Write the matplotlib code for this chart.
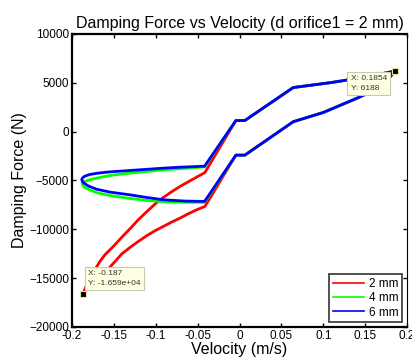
import matplotlib
matplotlib.use("Agg")
import matplotlib.pyplot as plt
import numpy as np

plt.rcParams['font.family'] = ['Liberation Sans', 'DejaVu Sans']

# shared right-hand part of the loop (upper branch, right to left)
right_upper_v = [0.1854, 0.150, 0.110, 0.064, 0.0063, -0.0044]
right_upper_f = [6188, 5570, 5020, 4500, 1126, 1126]
# shared right-hand part of the loop (lower branch, left to right)
right_lower_v = [-0.0044, 0.0063, 0.064, 0.100, 0.140, 0.170, 0.1854]
right_lower_f = [-2420, -2420, 1000, 1950, 3400, 4600, 6188]

# 2 mm
red_left_v = [-0.0414, -0.0513, -0.0613, -0.0712, -0.0812, -0.0911, -0.1011, -0.1110,
              -0.1210, -0.1309, -0.1409, -0.1508, -0.1608, -0.1668, -0.1728, -0.1787, -0.187,
              -0.1827, -0.175, -0.165, -0.155, -0.1469, -0.1409, -0.1309, -0.1210, -0.1110,
              -0.1011, -0.0911, -0.0812, -0.0712, -0.0613, -0.0513, -0.0414]
red_left_f = [-4193, -4671, -5148, -5626, -6172, -6752, -7434, -8219,
              -9038, -9959, -10846, -11767, -12620, -13300, -14155, -15005, -16590,
              -16210, -15700, -14900, -13900, -13132, -12552, -11870, -11256, -10676,
              -10164, -9720, -9276, -8867, -8424, -8014, -7673]

# 4 mm
green_left_v = [-0.0418, -0.070, -0.091, -0.131, -0.155, -0.171, -0.180, -0.185, -0.188,
                -0.1875, -0.185, -0.180, -0.171, -0.155, -0.131, -0.111, -0.091, -0.065, -0.0418]
green_left_f = [-3620, -3800, -3920, -4260, -4500, -4770, -4960, -5120, -5300,
                -5480, -5700, -5950, -6250, -6550, -6850, -7050, -7200, -7250, -7250]

# 6 mm
blue_left_v = [-0.0418, -0.070, -0.091, -0.131, -0.155, -0.170, -0.179, -0.185, -0.1875, -0.1885,
               -0.1875, -0.185, -0.180, -0.171, -0.155, -0.131, -0.111, -0.091, -0.065, -0.0418]
blue_left_f = [-3550, -3650, -3750, -3990, -4130, -4270, -4400, -4580, -4750, -4920,
               -5120, -5330, -5600, -5900, -6200, -6480, -6750, -6990, -7120, -7160]

labels = ['2 mm', '4 mm', '6 mm']
colors = ['#ff0000', '#00ff00', '#0000ff']


def loop(left_v, left_f):
    v = right_upper_v + left_v + right_lower_v
    f = right_upper_f + left_f + right_lower_f
    return np.array(v), np.array(f)


fig = plt.figure(figsize=(4.12, 3.6), dpi=100)
ax = fig.add_axes([0.175, 0.092, 0.813, 0.814])

for (lv, lf), lab, col in zip([(red_left_v, red_left_f), (green_left_v, green_left_f),
                               (blue_left_v, blue_left_f)], labels, colors):
    v, f = loop(lv, lf)
    ax.plot(v, f, color=col, lw=2, label=lab)

ax.set_xlim(-0.2, 0.2)
ax.set_ylim(-20000, 10000)
ax.set_xticks(np.arange(-0.2, 0.2001, 0.05))
ax.set_xticklabels(['-0.2', '-0.15', '-0.1', '-0.05', '0', '0.05', '0.1', '0.15', '0.2'])
ax.set_yticks(np.arange(-20000, 10001, 5000))
ax.tick_params(direction='in', length=3, width=1, labelsize=8.5, top=True, right=True, pad=2)
for side in ['left', 'bottom', 'top']:
    ax.spines[side].set_linewidth(1.6)
ax.spines['right'].set_linewidth(0.8)

ax.set_title('Damping Force vs Velocity (d orifice1 = 2 mm)', fontsize=11.5, pad=4)
ax.set_xlabel('Velocity (m/s)', fontsize=11.5, labelpad=0)
ax.set_ylabel('Damping Force (N)', fontsize=11.5, labelpad=2)

leg = ax.legend(loc='lower right', fontsize=8.5, frameon=True, fancybox=False,
                handlelength=2.7, borderpad=0.3, labelspacing=0.2, borderaxespad=0.4,
                handletextpad=0.4)
leg.get_frame().set_edgecolor('black')
leg.get_frame().set_linewidth(1.2)
for h in leg.get_lines():
    h.set_linewidth(1.2)

# data tips
tips = [(0.1854, 6188, 'X: 0.1854\nY: 6188', (-44, -4), 'top'),
        (-0.187, -16590, 'X: -0.187\nY: -1.659e+04', (5, 7), 'bottom')]
for tx, ty, txt, off, va in tips:
    ax.plot([tx], [ty], marker='s', ms=5, color='black', mec='#e8e0a0', mew=0.8, zorder=5)
    ax.annotate(txt, xy=(tx, ty), xytext=off, textcoords='offset pixels',
                ha='left', va=va, fontsize=6, color='#333333', linespacing=1.5,
                bbox=dict(boxstyle='square,pad=0.4', fc='#ffffe1', ec='#c8c8b4', lw=0.8),
                zorder=6)

fig.savefig('out.png', dpi=100, facecolor='white')
